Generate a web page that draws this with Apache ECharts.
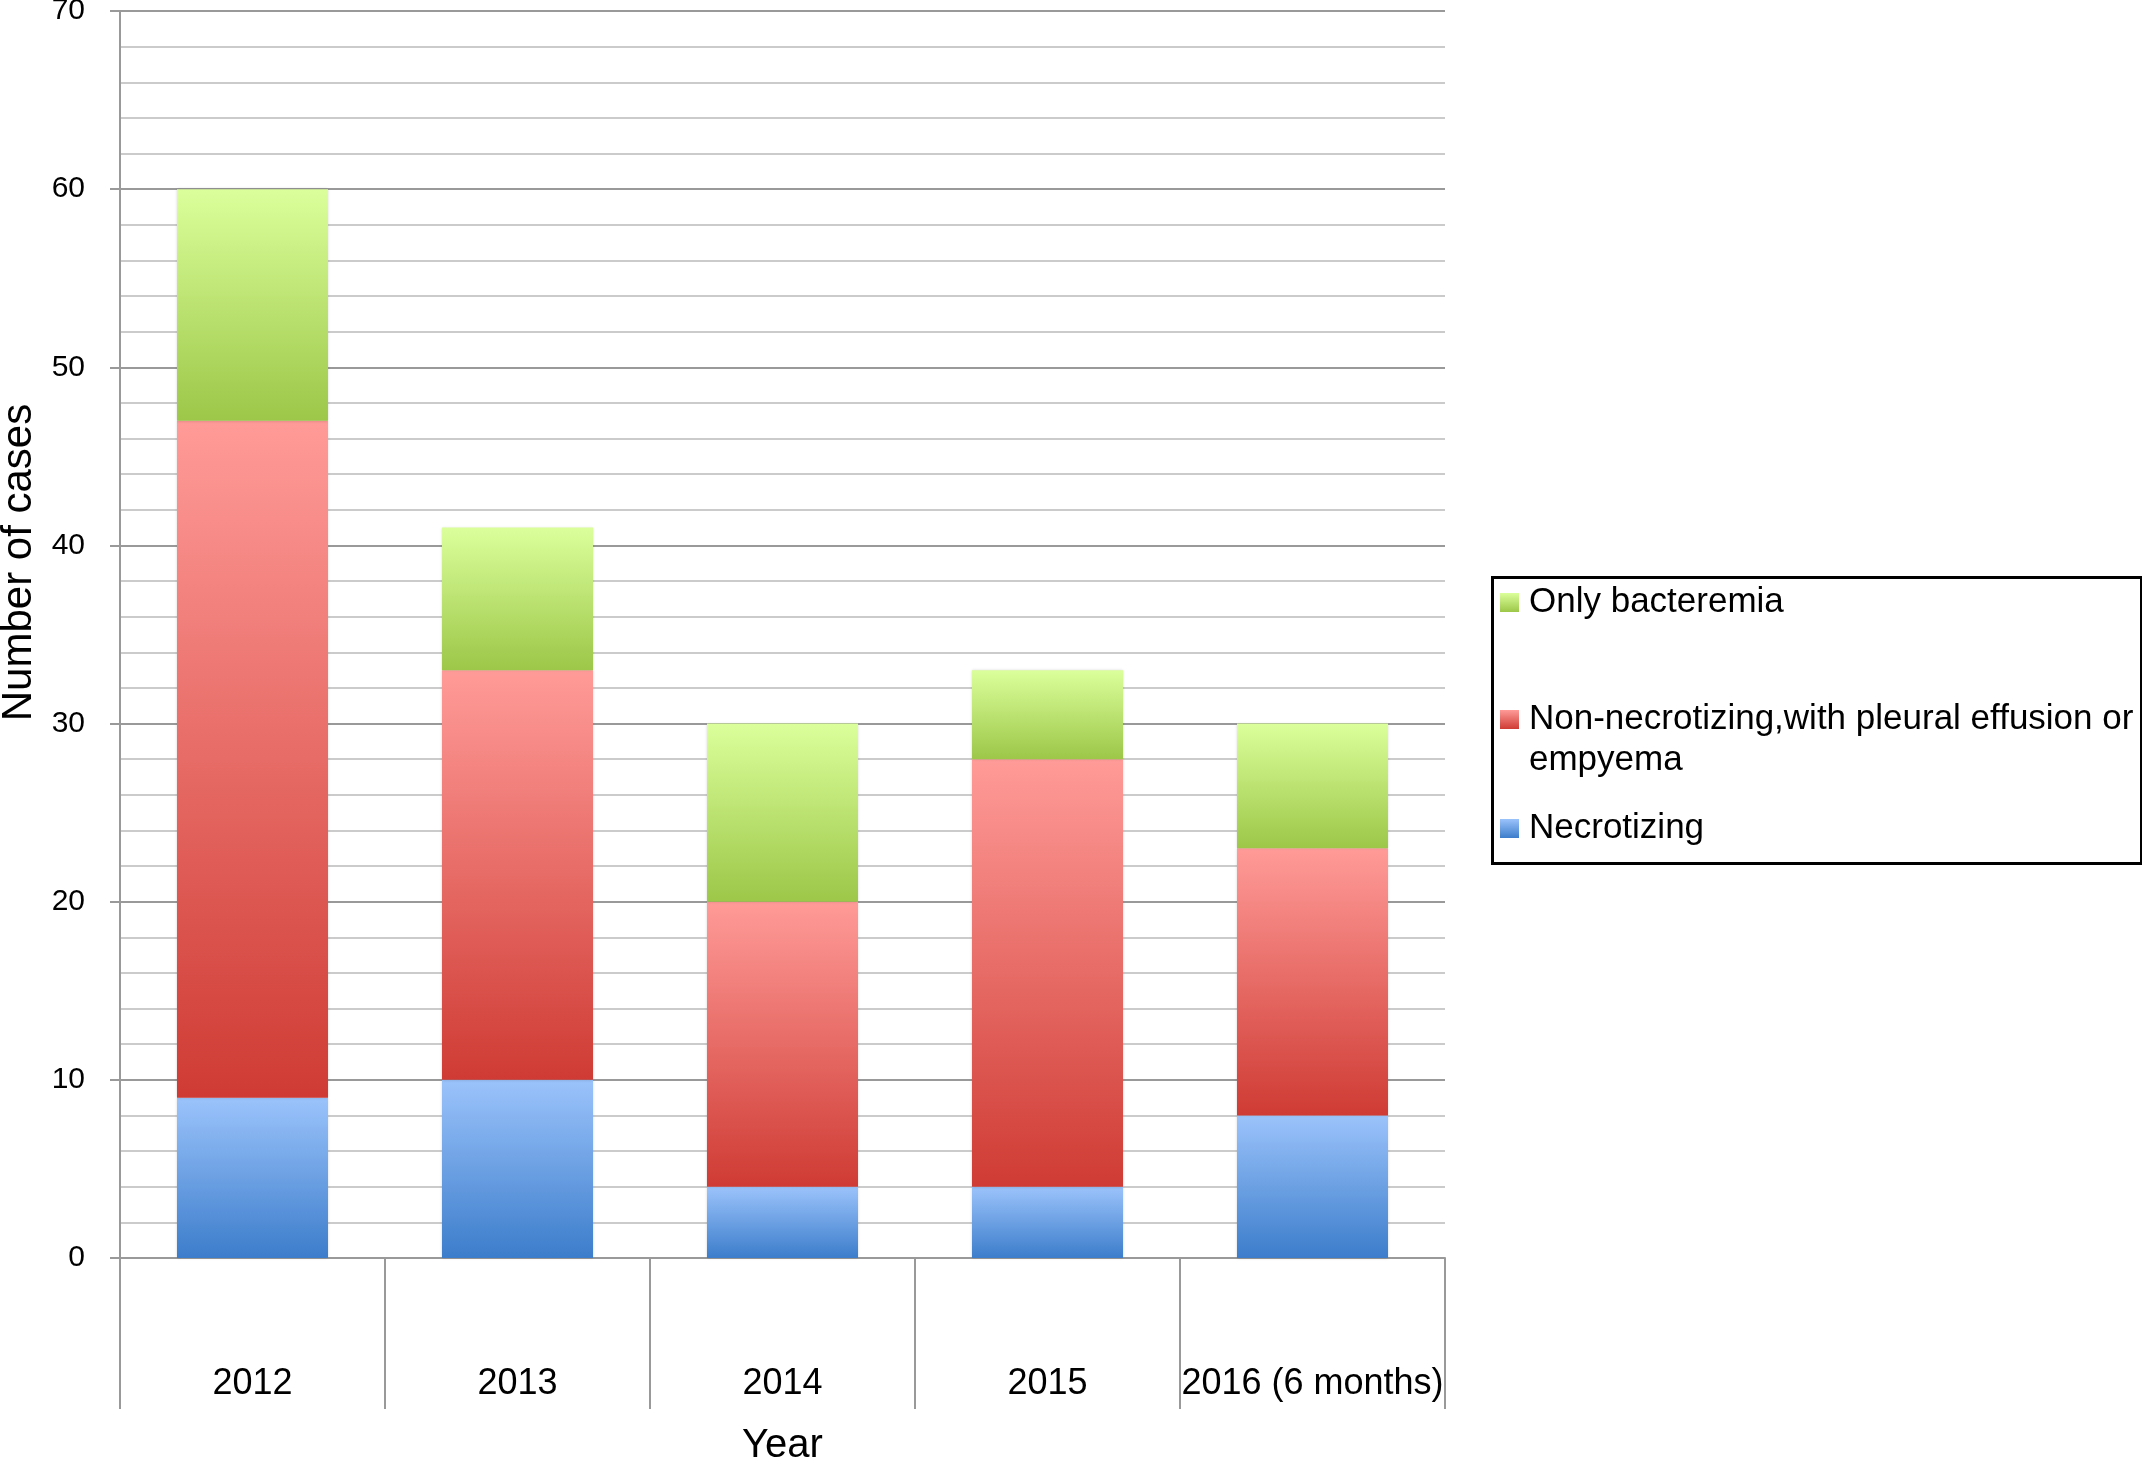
<!DOCTYPE html>
<html>
<head>
<meta charset="utf-8">
<script src="https://cdn.jsdelivr.net/npm/echarts@6/dist/echarts.min.js"></script>
<style>
html,body{margin:0;padding:0;background:#fff;}
#chart{width:2142px;height:1457px;}
</style>
</head>
<body>
<div id="chart"></div>
<script>
const categories = ['2012', '2013', '2014', '2015', '2016 (6 months)'];
const necrotizing = [9, 10, 4, 4, 8];
const nonNecrotizing = [38, 23, 16, 24, 15];
const onlyBacteremia = [13, 8, 10, 5, 7];
const seriesNames = ['Only bacteremia', 'Non-necrotizing,with pleural effusion or\nempyema', 'Necrotizing'];

const FONT = 'Liberation Sans, Arial, Helvetica, sans-serif';
function grad(top, bottom, end) {
  return new echarts.graphic.LinearGradient(0, 0, 0, 1, [
    { offset: 0, color: top }, { offset: end || 1, color: bottom }
  ]);
}
const greenG = grad('#dbff9b', '#9cc748');
const redG = grad('#ff9b98', '#cf3b34');
const blueG = grad('#9bc3fb', '#3c7dcb');
const redLegendG = grad('#ff9b98', '#cf3b34', 19 / 60);

const chart = echarts.init(document.getElementById('chart'));
const legendBase = {
  orient: 'vertical', left: 1500, padding: 0, itemWidth: 19, itemHeight: 19, itemGap: 0,
  icon: 'rect',
  textStyle: { fontSize: 35, color: '#000', fontFamily: FONT, lineHeight: 41, padding: [0, 0, 0, 5] },
  selectedMode: false
};
function barSeries(name, data, color) {
  return {
    name: name, type: 'bar', stack: 'total', data: data, barWidth: '57%',
    itemStyle: { color: color, shadowBlur: 3, shadowColor: 'rgba(0,0,0,0.2)' }
  };
}
chart.setOption({
  animation: false,
  backgroundColor: '#fff',
  grid: { left: 120, right: 697, top: 11, bottom: 199, containLabel: false, outerBoundsMode: 'none' },
  legend: [
    Object.assign({}, legendBase, { top: 582, data: [{ name: seriesNames[0] }] }),
    Object.assign({}, legendBase, {
      top: 699, itemHeight: 60,
      data: [{
        name: seriesNames[1],
        icon: 'path://M0,0L19,0L19,19L0,19Z M0,60L0.01,60L0,59.99Z',
        itemStyle: { color: redLegendG }
      }]
    }),
    Object.assign({}, legendBase, { top: 808, data: [{ name: seriesNames[2] }] })
  ],
  graphic: [{
    type: 'rect', left: 1490, top: 575, z: 100,
    shape: { width: 649, height: 286 },
    style: { fill: 'none', stroke: '#000', lineWidth: 3 }
  }],
  xAxis: {
    type: 'category', data: categories,
    name: 'Year', nameLocation: 'middle', nameGap: 168,
    nameTextStyle: { fontSize: 40, color: '#000', fontFamily: FONT },
    axisLine: { show: true, lineStyle: { color: '#999', width: 2 } },
    axisTick: { show: true, length: 151, lineStyle: { color: '#999', width: 2 } },
    axisLabel: { margin: 108, fontSize: 36, color: '#000', fontFamily: FONT, interval: 0 },
    splitLine: { show: false }
  },
  yAxis: {
    type: 'value', min: 0, max: 70, interval: 10,
    name: 'Number of cases', nameLocation: 'middle', nameGap: 80,
    nameTextStyle: { fontSize: 42, color: '#000', fontFamily: FONT, padding: [0, 0, 0, 144] },
    axisLine: { show: true, lineStyle: { color: '#999', width: 2 } },
    axisTick: { show: true, length: 10, lineStyle: { color: '#999', width: 2 } },
    axisLabel: { margin: 35, fontSize: 30, color: '#000', fontFamily: FONT },
    splitLine: { show: true, lineStyle: { color: '#999', width: 2 } },
    minorTick: { show: false, splitNumber: 5 },
    minorSplitLine: { show: true, lineStyle: { color: '#bbb', width: 1.5 } }
  },
  series: [
    barSeries(seriesNames[2], necrotizing, blueG),
    barSeries(seriesNames[1], nonNecrotizing, redG),
    barSeries(seriesNames[0], onlyBacteremia, greenG)
  ]
});
</script>
</body>
</html>
